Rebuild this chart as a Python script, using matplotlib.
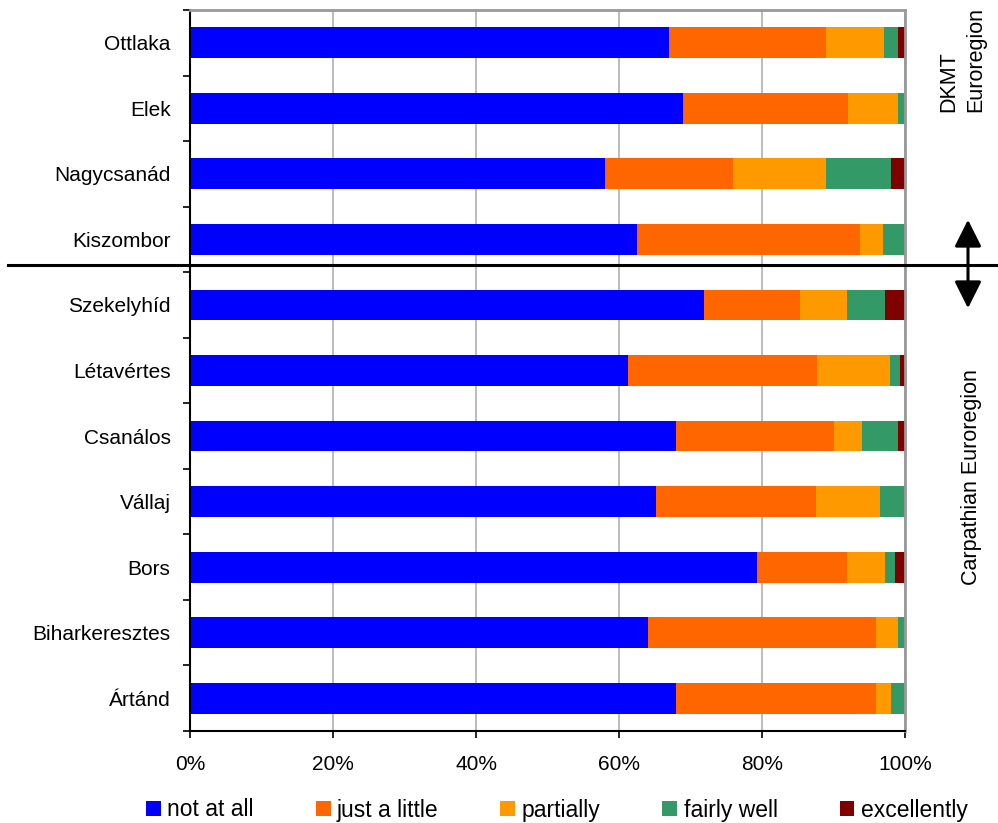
import numpy as np
import matplotlib
matplotlib.use("Agg")
import matplotlib.pyplot as plt
from matplotlib.lines import Line2D
from matplotlib.patches import FancyArrowPatch
from matplotlib.ticker import FixedLocator, FuncFormatter

plt.rcParams['font.family'] = ['Liberation Sans', 'DejaVu Sans']

# settlements, top to bottom
places = ['Ottlaka', 'Elek', 'Nagycsanád', 'Kiszombor',
          'Szekelyhíd', 'Létavértes', 'Csanálos', 'Vállaj',
          'Bors', 'Biharkeresztes', 'Ártánd']

answers = ['not at all', 'just a little', 'partially', 'fairly well', 'excellently']
colors = ['#0000ff', '#ff6600', '#ff9900', '#339966', '#800000']

# shares of answers in percent, one list per answer
not_at_all = [67.0, 69.0, 58.0, 62.5, 71.9, 61.2, 68.0, 65.2, 79.3, 64.0, 68.0]
just_a_little = [22.0, 23.0, 18.0, 31.25, 13.4, 26.5, 22.0, 22.4, 12.6, 32.0, 28.0]
partially = [8.0, 7.0, 13.0, 3.125, 6.6, 10.2, 4.0, 8.9, 5.3, 3.0, 2.0]
fairly_well = [2.0, 1.0, 9.0, 3.125, 5.3, 1.4, 5.0, 3.5, 1.4, 1.0, 2.0]
excellently = [1.0, 0.0, 2.0, 0.0, 2.8, 0.7, 1.0, 0.0, 1.4, 0.0, 0.0]

series = [not_at_all, just_a_little, partially, fairly_well, excellently]

fig = plt.figure(figsize=(9.98, 8.23), dpi=100)
ax = fig.add_axes([190 / 998, 1 - 731 / 823, 715 / 998, 721 / 823])

y = np.arange(len(places))
left = np.zeros(len(places))
handles = []
for vals, name, col in zip(series, answers, colors):
    vals = np.array(vals)
    b = ax.barh(y, vals, left=left, height=0.47, color=col, label=name, zorder=2)
    handles.append(b)
    left += vals

ax.set_xlim(0, 100)
ax.set_ylim(len(places) - 0.5, -0.5)
ax.xaxis.set_major_locator(FixedLocator([0, 20, 40, 60, 80, 100]))
ax.xaxis.set_major_formatter(FuncFormatter(lambda v, p: f'{int(v)}%'))
ax.grid(axis='x', color='#b0b0b0', linewidth=1.2, zorder=0)
ax.set_yticks(y)
ax.set_yticklabels(places)
ax.yaxis.set_minor_locator(FixedLocator(np.arange(-0.5, len(places), 1.0)))
ax.tick_params(axis='y', which='major', length=0, pad=14, labelsize=15)
ax.tick_params(axis='y', which='minor', length=5, width=1.2, direction='out')
ax.tick_params(axis='x', length=5, width=1.2, direction='out', pad=12, labelsize=15)

ax.spines['left'].set_color('black')
ax.spines['left'].set_linewidth(1.5)
ax.spines['bottom'].set_color('black')
ax.spines['bottom'].set_linewidth(1.5)
ax.spines['top'].set_color('#999999')
ax.spines['top'].set_linewidth(2)
ax.spines['right'].set_color('#999999')
ax.spines['right'].set_linewidth(2)

# divider between the two euroregions
fig.add_artist(Line2D([8 / 998, 1.0], [1 - 265 / 823, 1 - 265 / 823],
                      transform=fig.transFigure, color='black', linewidth=2.2))
arrow = FancyArrowPatch((968 / 998, 1 - 217 / 823), (968 / 998, 1 - 311 / 823),
                        transform=fig.transFigure, arrowstyle='<|-|>,head_length=1.1,head_width=0.55',
                        mutation_scale=15, color='black', linewidth=2.2)
fig.add_artist(arrow)

fig.text(962 / 998, 1 - 60 / 823, 'DKMT\nEuroregion', rotation=90, ha='center', va='center',
         fontsize=15.5, multialignment='left', linespacing=1.35)
fig.text(971 / 998, 1 - 477 / 823, 'Carpathian Euroregion', rotation=90,
         ha='center', va='center', fontsize=15.5)

fig.legend(handles=handles, labels=answers, loc='center', bbox_to_anchor=(0.558, 1 - 810 / 823),
           ncol=5, frameon=False, fontsize=16.5, handlelength=0.65, handleheight=0.65,
           handletextpad=0.28, columnspacing=2.7)

fig.savefig('out.png', dpi=100)
